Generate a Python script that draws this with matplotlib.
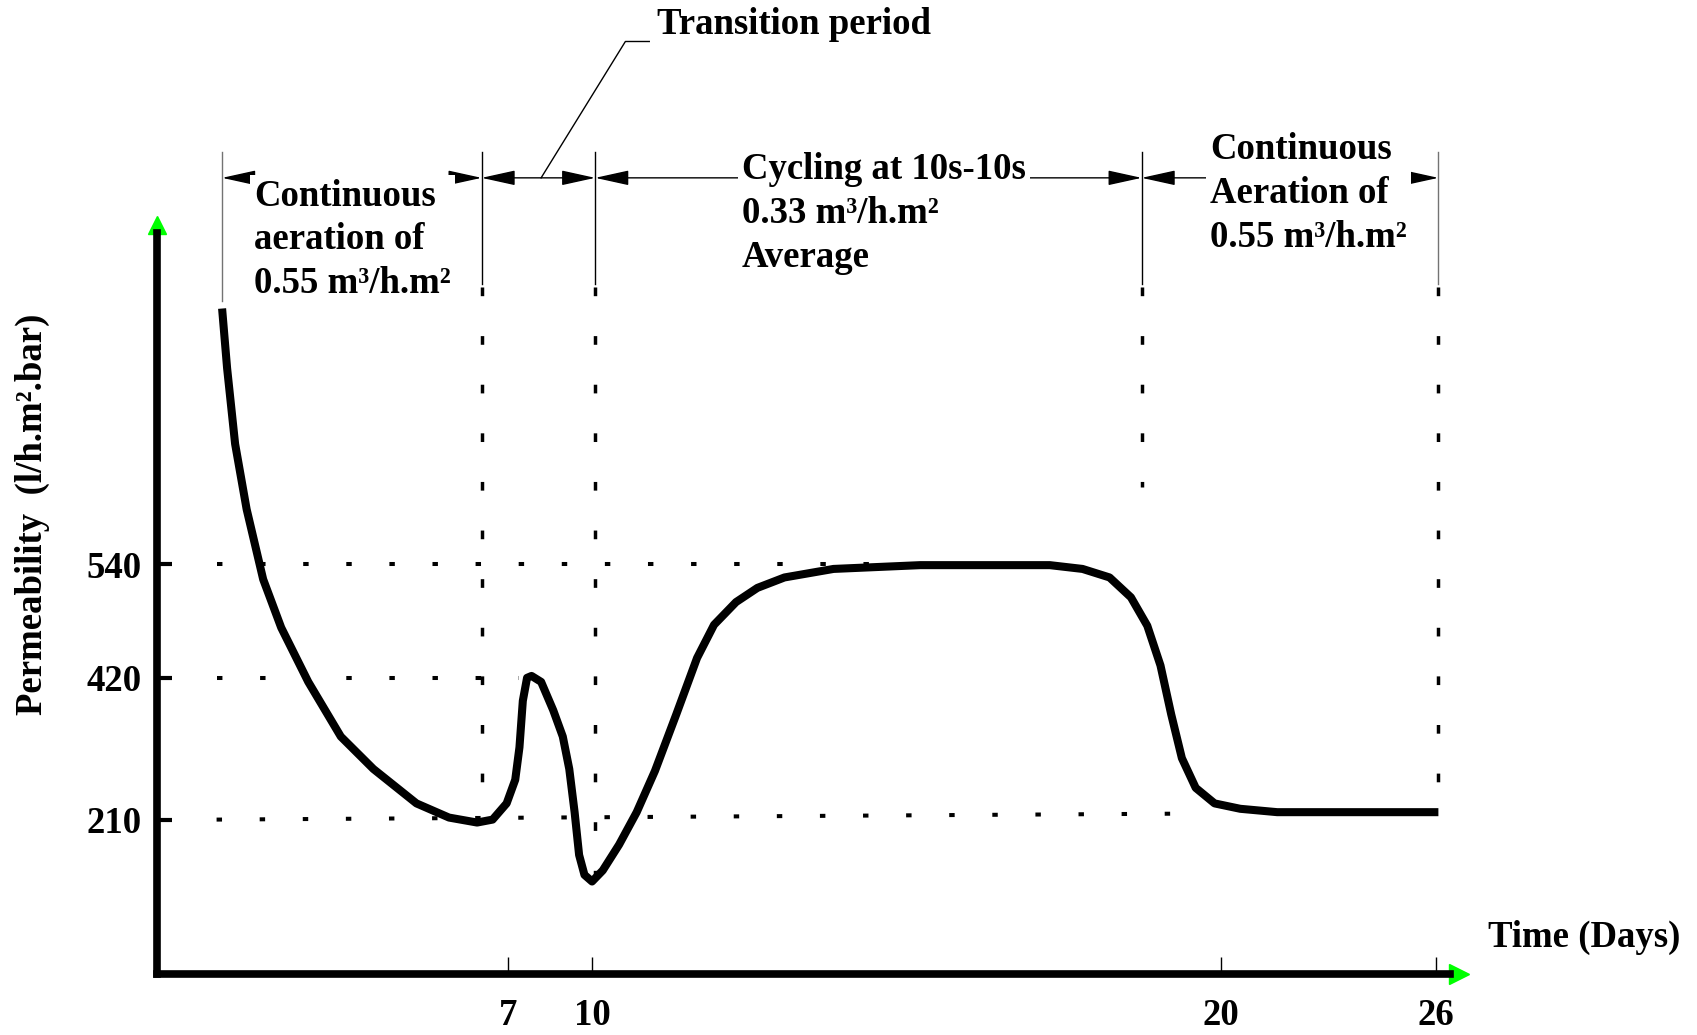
import numpy as np
import matplotlib
matplotlib.use('Agg')
import matplotlib.pyplot as plt
from matplotlib.transforms import ScaledTranslation

plt.rcParams['font.family'] = ['Liberation Serif', 'DejaVu Serif']
plt.rcParams['font.weight'] = 'bold'
plt.rcParams['font.size'] = 26.5

# Permeability curve (time in days)
days = [1.30, 1.40, 1.56, 1.79, 2.12, 2.48, 3.02, 3.67, 4.32, 5.18,
        5.83, 6.39, 6.70, 6.98, 7.27, 7.42, 7.54, 7.69, 7.85, 8.19,
        8.62, 8.96, 9.19, 9.38, 9.54, 9.73, 10.0, 10.17, 10.43, 10.71,
        11.0, 11.34, 11.67, 11.94, 12.29, 12.63, 13.06, 13.84, 15.22, 17.28,
        17.80, 18.23, 18.57, 18.83, 19.04, 19.21, 19.38, 19.60, 19.90, 20.54,
        21.57, 23.68, 26.06]
perm = [810, 747, 667, 598, 524, 473, 414, 333, 285, 234,
        213, 206, 210, 234, 269, 317, 386, 420, 422, 414,
        372, 333, 285, 221, 162, 135, 126, 141, 176, 221,
        282, 366, 441, 476, 500, 515, 526, 535, 539, 539,
        535, 526, 505, 475, 433, 366, 301, 257, 234, 226,
        221, 221, 221]

# Operating phases
phase_bounds = [1.30, 6.48, 10.05, 18.74, 26.06]
phase_dotted_end = [None, 210, 132, 621, 220]
phase_labels = ['Continuous\naeration of\n0.55 m\u00b3/h.m\u00b2',
                'Cycling at 10s-10s\n0.33 m\u00b3/h.m\u00b2\nAverage',
                'Continuous\nAeration of\n0.55 m\u00b3/h.m\u00b2']
transition_label = 'Transition period'

# Dotted reference levels
ref_levels = [540, 420, 210]
ref_start = [1.19, 1.19, 1.19]
ref_end = [14.6, 7.42, 19.69]
ref_end_level = [540, 420, 219]

x_ticks = [7, 10, 20, 26]
y_ticks = [210, 420, 540]

# the sketch is not to scale -> piecewise linear axes
day_knots = [-10, 0, 7, 10, 20, 26, 40]
day_pos = [-318, 145, 469, 547, 1128, 1327, 1792]
val_knots = [-100, 0, 210, 420, 540, 1500]
val_pos = [-68, 0, 143, 274, 379, 1219]


def fx(x):
    return np.interp(x, day_knots, day_pos)


def ix(p):
    return np.interp(p, day_pos, day_knots)


def fy(y):
    return np.interp(y, val_knots, val_pos)


def iy(p):
    return np.interp(p, val_pos, val_knots)


fig = plt.figure(figsize=(16.97, 10.35), dpi=100)
ax = fig.add_axes([0.0925, 0.0586, 0.7621, 0.7165])
ax.set_xscale('function', functions=(fx, ix))
ax.set_yscale('function', functions=(fy, iy))
ax.set_xlim(0, 26.39)
ax.set_ylim(0, 890)

# curve
ax.plot(days, perm, color='k', lw=5.8, solid_capstyle='butt',
        solid_joinstyle='round', zorder=4)

# horizontal dotted levels
for y0, x0, x1, y1 in zip(ref_levels, ref_start, ref_end, ref_end_level):
    ax.plot([x0, x1], [y0, y1], color='k', lw=2.9, ls=(0, (1.35, 9.35)), zorder=2)

# vertical dotted phase lines
for b, bot in zip(phase_bounds[1:], phase_dotted_end[1:]):
    ax.plot([b, b], [833, bot], color='k', lw=2.5, ls=(0, (2.5, 11.5)),
            clip_on=False, zorder=2)

# extension lines + dimension arrows
dim_y = 948
ext_bottom = [818, 836, 836, 836, 836]
ext_colors = ['0.45', 'k', 'k', 'k', '0.45']
for b, bot, c in zip(phase_bounds, ext_bottom, ext_colors):
    ax.plot([b, b], [bot, 975], color=c, lw=1, clip_on=False)
for i in range(len(phase_bounds) - 1):
    ax.annotate('', xy=(phase_bounds[i + 1], dim_y), xytext=(phase_bounds[i], dim_y),
                arrowprops=dict(arrowstyle='<|-|>,head_length=1.0,head_width=0.22',
                                mutation_scale=21, lw=1, color='k',
                                shrinkA=0, shrinkB=0),
                annotation_clip=False, zorder=3)

# phase texts (white box hides the dimension line behind)
label_pos = [(1.94, 947), (12.38, 975), (19.83, 996)]
for (x, y), txt in zip(label_pos, phase_labels):
    ax.text(x, y, txt, ha='left', va='top', linespacing=1.32, zorder=5,
            bbox=dict(facecolor='white', edgecolor='none', pad=3))

# transition period leader
ax.plot([8.19, 10.53, 10.91], [dim_y, 1092, 1092], color='k', lw=1,
        clip_on=False, zorder=3)
ax.text(11.03, 1110, transition_label, ha='left', va='center')

# axes styling
for s in ['top', 'right']:
    ax.spines[s].set_visible(False)
for s in ['left', 'bottom']:
    ax.spines[s].set_linewidth(5.5)
ax.set_xticks(x_ticks)
ax.set_xticklabels([str(t) for t in x_ticks])
ax.set_yticks(y_ticks)
ax.set_yticklabels([str(t) for t in y_ticks])
ax.minorticks_off()
ax.tick_params(axis='x', direction='in', length=12, width=1, pad=17)
ax.tick_params(axis='y', direction='in', length=11, width=3, pad=11)

# green arrow heads at axis ends
up = ax.transAxes + ScaledTranslation(0, 0.08, fig.dpi_scale_trans)
right = ax.transAxes + ScaledTranslation(0.09, 0, fig.dpi_scale_trans)
ax.plot([0], [1], marker='^', color='#00ff00', ms=13, transform=up, clip_on=False)
ax.plot([1], [0], marker='>', color='#00ff00', ms=14, transform=right, clip_on=False)

fig.text(0.0191, 0.503, 'Permeability  (l/h.m\u00b2.bar)', rotation=90,
         ha='center', va='center')
fig.text(0.877, 0.094, 'Time (Days)', ha='left', va='center')

fig.savefig('out.png', dpi=100)
